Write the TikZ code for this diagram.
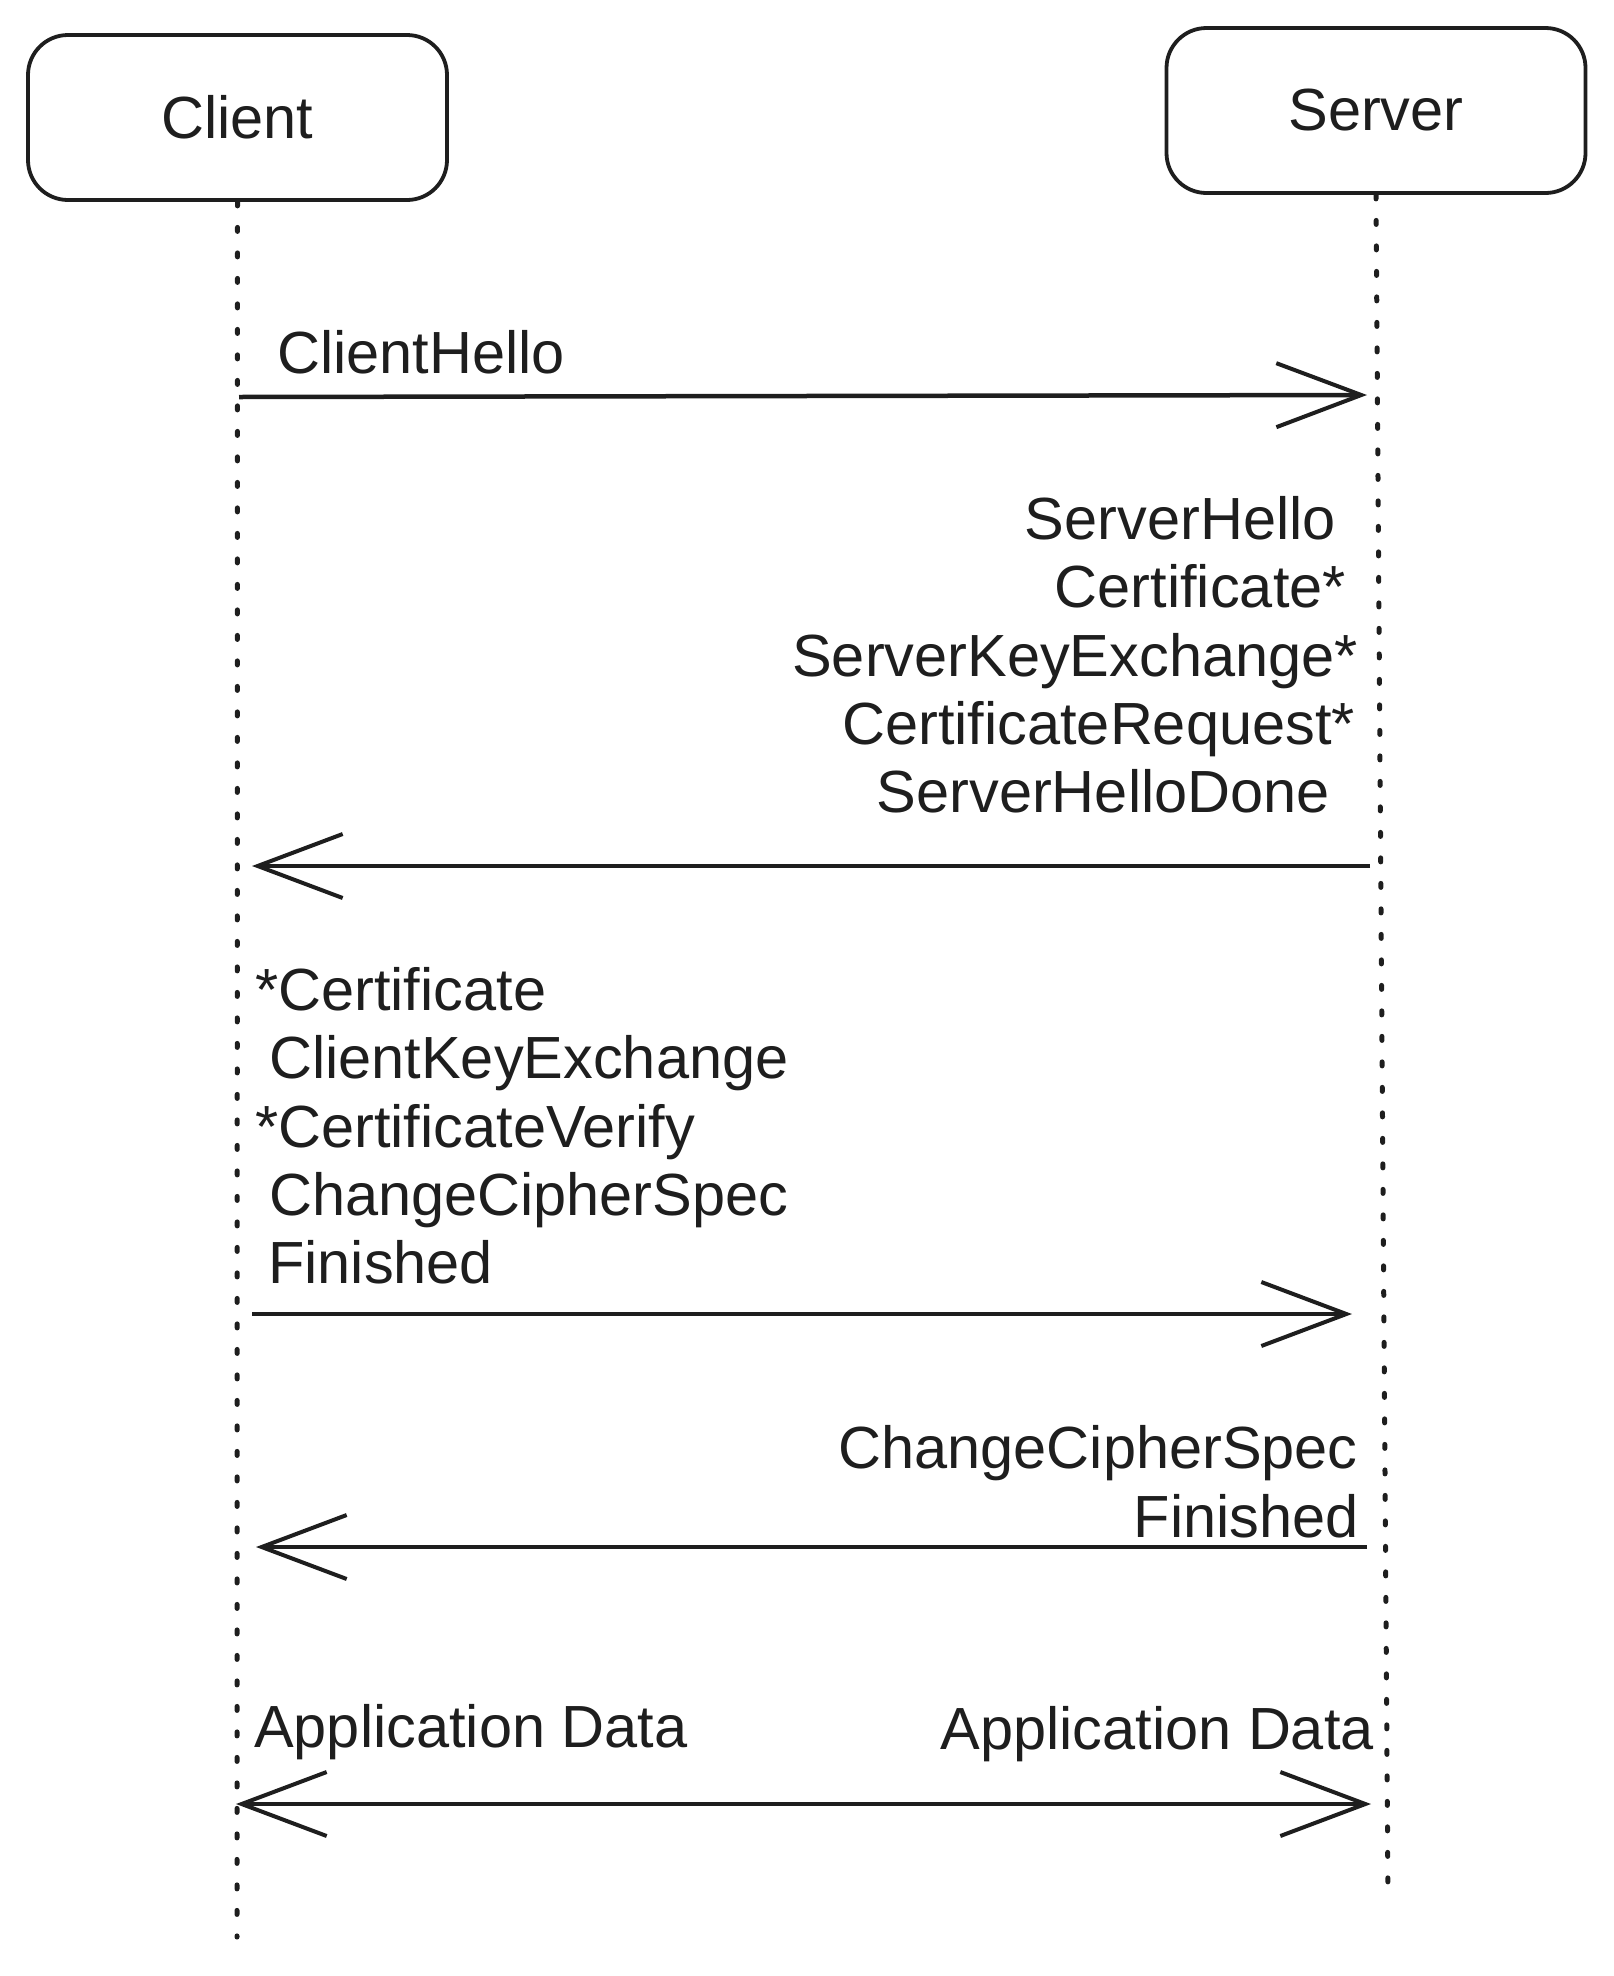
\documentclass[tikz,border=0pt]{standalone}
\usepackage{fontspec}
\setmainfont{Liberation Sans}
\usetikzlibrary{arrows.meta}
\definecolor{ink}{HTML}{1E1E1E}
\begin{document}
\begin{tikzpicture}[x=1pt,y=-1pt,
  actor/.style={draw=ink, line width=3.8pt, rounded corners=40pt, minimum width=419pt, minimum height=165pt, inner sep=0pt, font=\fontsize{59.5}{68}\selectfont, text=ink},
  lifeline/.style={draw=ink, line width=5pt, line cap=round, dash pattern=on 4pt off 21.5pt},
  barb/.tip={Straight Barb[length=85pt,width=64pt,line width=4pt]},
  msg/.style={draw=ink, line width=4.5pt, -barb},
  dmsg/.style={draw=ink, line width=4.5pt, barb-barb},
  lbl/.style={inner sep=0pt, font=\fontsize{59.5}{68}\selectfont, text=ink}]
\useasboundingbox (0,0) rectangle (1614,1976);
% actors
\node[actor] (client) at (237.5,117.5) {Client};
\node[actor] (server) at (1376,110.5) {Server};
\coordinate (cend) at (237,1937);
\coordinate (send) at (1388,1900);
\draw[lifeline] (client.south) -- (cend);
\draw[lifeline] (server.south) -- (send);
% message 1
\coordinate (a1) at (239,397);
\coordinate (b1) at (1367,395);
\draw[msg] (a1) -- (b1);
\node[lbl, anchor=base west] (t1) at (277,373) {ClientHello};
% message 2
\coordinate (a2) at (1370,866);
\coordinate (b2) at (252,866);
\draw[msg] (a2) -- (b2);
\node[lbl, anchor=base east] (t21) at (1336,539) {ServerHello};
\node[lbl, anchor=base east] (t22) at (1346,607) {Certificate*};
\node[lbl, anchor=base east] (t23) at (1358,676) {ServerKeyExchange*};
\node[lbl, anchor=base east] (t24) at (1355,744) {CertificateRequest*};
\node[lbl, anchor=base east] (t25) at (1330,812) {ServerHelloDone};
% message 3
\coordinate (a3) at (252,1314);
\coordinate (b3) at (1352,1314);
\draw[msg] (a3) -- (b3);
\node[lbl, anchor=base west] (t31) at (255,1010) {*Certificate};
\node[lbl, anchor=base west] (t32) at (269,1078) {ClientKeyExchange};
\node[lbl, anchor=base west] (t33) at (255,1147) {*CertificateVerify};
\node[lbl, anchor=base west] (t34) at (269,1215) {ChangeCipherSpec};
\node[lbl, anchor=base west] (t35) at (268,1283) {Finished};
% message 4
\coordinate (a4) at (1367,1547);
\coordinate (b4) at (256,1547);
\draw[msg] (a4) -- (b4);
\node[lbl, anchor=base east] (t41) at (1358,1468) {ChangeCipherSpec};
\node[lbl, anchor=base east] (t42) at (1359,1537) {Finished};
% message 5
\coordinate (a5) at (236,1804);
\coordinate (b5) at (1371,1804);
\draw[dmsg] (a5) -- (b5);
\node[lbl, anchor=base west] (t51) at (254,1747) {Application Data};
\node[lbl, anchor=base east] (t52) at (1374,1749) {Application Data};
\end{tikzpicture}
\end{document}
